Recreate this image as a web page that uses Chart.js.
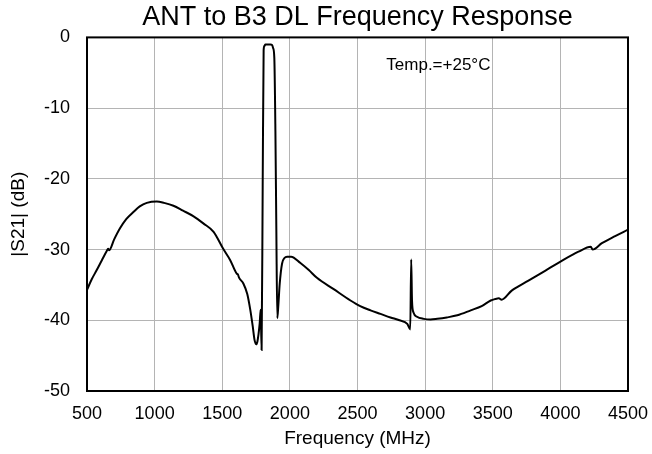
<!DOCTYPE html>
<html>
<head>
<meta charset="utf-8">
<script src="https://cdn.jsdelivr.net/npm/chart.js@4.4.1/dist/chart.umd.min.js"></script>
<style>
  html, body { margin: 0; padding: 0; background: #fff; }
  #wrap { width: 652px; height: 454px; }
</style>
</head>
<body>
<div id="wrap"><canvas id="chart" width="652" height="454"></canvas></div>
<script>
// Frequency points (MHz) and |S21| values (dB)
const freqMHz = [
  500, 535, 572, 610, 646, 656, 664, 700, 744, 790, 843, 890, 942, 1016, 1070,
  1139, 1210, 1288, 1360, 1436, 1507, 1559, 1607, 1615, 1625, 1656, 1685, 1707,
  1725, 1739, 1752, 1760, 1768, 1777, 1784, 1791, 1799, 1806, 1812, 1819, 1856,
  1869, 1876, 1885, 1893, 1900, 1907, 1915, 1925, 1942, 1960, 1979, 2009, 2078,
  2140, 2200, 2324, 2448, 2520, 2596, 2670, 2744, 2810, 2868, 2890, 2897, 2903,
  2914, 2940, 2990, 3040, 3090, 3160, 3238, 3337, 3418, 3485, 3517, 3545, 3565,
  3640, 3764, 3887, 4010, 4134, 4225, 4238, 4307, 4405, 4500
];
const s21dB = [
  -35.7, -34.2, -32.9, -31.5, -30.2, -29.9, -30.1, -28.6, -27.0, -25.7, -24.7, -23.9, -23.4, -23.2, -23.4,
  -23.8, -24.5, -25.3, -26.3, -27.5, -29.9, -31.5, -33.4, -33.5, -34.0, -34.8, -36.3, -38.5,
  -40.8, -42.8, -43.4, -43.0, -42.0, -40.4, -38.5, -44.2, -21.0, -1.8, -1.2, -1.0, -1.0,
  -1.1, -1.5, -2.9, -13.2, -27.3, -39.7, -37.8, -34.8, -32.0, -31.2, -31.0, -31.0, -31.9,
  -32.9, -34.0, -35.6, -37.2, -38.0, -38.6, -39.1, -39.6, -40.0, -40.5, -41.3, -31.4, -37.2,
  -38.9, -39.5, -39.8, -39.9, -39.8, -39.6, -39.3, -38.6, -38.0, -37.2, -37.0, -36.9, -37.1,
  -35.8, -34.4, -33.0, -31.6, -30.3, -29.6, -30.0, -29.1, -28.1, -27.2
];
const xTicks = [500, 1000, 1500, 2000, 2500, 3000, 3500, 4000, 4500];
const yTicks = [0, -10, -20, -30, -40, -50];
const tempNote = { text: 'Temp.=+25°C', x: 3098, y: -3.9 };

const FONT = "'Liberation Sans', Arial, sans-serif";

// outer box round the plot area plus the temperature note
const framePlugin = {
  id: 'frame',
  afterDraw(chart) {
    const { ctx, chartArea: a, scales } = chart;
    ctx.save();
    ctx.strokeStyle = '#000';
    ctx.lineWidth = 2;
    ctx.strokeRect(a.left, a.top, a.right - a.left, a.bottom - a.top);
    ctx.fillStyle = '#000';
    ctx.font = '17px ' + FONT;
    ctx.textAlign = 'center';
    ctx.textBaseline = 'middle';
    ctx.fillText(tempNote.text, scales.x.getPixelForValue(tempNote.x), scales.y.getPixelForValue(tempNote.y));
    ctx.restore();
  }
};

new Chart(document.getElementById('chart'), {
  type: 'line',
  data: {
    datasets: [{
      data: freqMHz.map((f, i) => ({ x: f, y: s21dB[i] })),
      borderColor: '#000',
      borderWidth: 2,
      pointRadius: 0,
      cubicInterpolationMode: 'monotone',
      fill: false
    }]
  },
  options: {
    responsive: false,
    animation: false,
    layout: { padding: { left: 0, right: 24, top: 0, bottom: 0 } },
    plugins: {
      legend: { display: false },
      tooltip: { enabled: false },
      title: {
        display: true,
        fullSize: false,
        text: 'ANT to B3 DL Frequency Response',
        color: '#000',
        font: { family: FONT, size: 27, weight: 'normal' },
        padding: { top: 1, bottom: 4 }
      }
    },
    scales: {
      x: {
        type: 'linear',
        min: 500,
        max: 4500,
        afterFit(s) { s.height = 63; s.paddingLeft = 0; s.paddingRight = 0; },
        afterBuildTicks(s) { s.ticks = xTicks.map(v => ({ value: v })); },
        grid: { color: '#b4b4b4', lineWidth: 1, drawTicks: false },
        border: { display: false },
        ticks: {
          color: '#000', padding: 12, maxRotation: 0,
          font: { family: FONT, size: 18 },
          callback: v => String(v)
        },
        title: {
          display: true,
          text: 'Frequency (MHz)',
          color: '#000',
          font: { family: FONT, size: 19 },
          padding: { top: 0, bottom: 4 }
        }
      },
      y: {
        type: 'linear',
        min: -50,
        max: 0,
        afterFit(s) { s.width = 87; },
        afterBuildTicks(s) { s.ticks = yTicks.map(v => ({ value: v })); },
        grid: { color: '#b4b4b4', lineWidth: 1, drawTicks: false },
        border: { display: false },
        ticks: {
          color: '#000', padding: 17,
          font: { family: FONT, size: 18 },
          callback: v => String(v)
        },
        title: {
          display: true,
          text: '|S21| (dB)',
          color: '#000',
          font: { family: FONT, size: 19 },
          padding: { top: 7, bottom: 0 }
        }
      }
    }
  },
  plugins: [framePlugin]
});
</script>
</body>
</html>
